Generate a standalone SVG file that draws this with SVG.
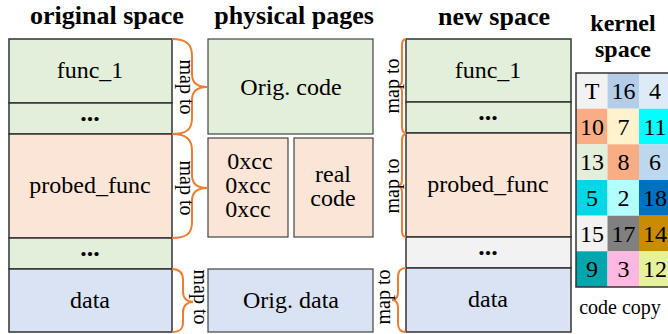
<svg xmlns="http://www.w3.org/2000/svg" width="668" height="334" viewBox="0 0 668 334">
<style>
.t{font-family:"Liberation Serif","Times New Roman",serif;fill:#000}
.title{font-size:26px;font-weight:bold;text-anchor:middle}
.ktitle{font-size:24px;font-weight:bold;text-anchor:middle}
.lbl{font-size:24px;text-anchor:middle}
.dots{font-size:26px;font-weight:bold;text-anchor:middle}
.map{font-size:20px;text-anchor:middle}
.num{font-size:24px;text-anchor:middle}
.box{stroke:#333;stroke-width:1.5}
.pbox{stroke:#444;stroke-width:1.2}
.g{fill:#e2efda}.o{fill:#fbe5d6}.b{fill:#dae3f3}.gr{fill:#f2f2f2}
.brace{fill:none;stroke:#ed7d31;stroke-width:2}
</style>
<rect width="668" height="334" fill="#fff"/>
<text class="t title" x="107" y="24">original space</text>
<text class="t title" x="294" y="24">physical pages</text>
<text class="t title" x="494" y="25">new space</text>
<text class="t ktitle" x="623" y="31">kernel</text>
<text class="t ktitle" x="623" y="57">space</text>

<g id="orig-func1"><rect class="box g" x="9" y="39" width="163" height="64"/><text class="t lbl" x="90" y="78">func_1</text></g>
<g id="orig-dots1"><rect class="box g" x="9" y="103" width="163" height="31"/><text class="t dots" x="90" y="121">...</text></g>
<g id="orig-probed"><rect class="box o" x="9" y="134" width="163" height="104"/><text class="t lbl" x="90" y="193">probed_func</text></g>
<g id="orig-dots2"><rect class="box g" x="9" y="238" width="163" height="31"/><text class="t dots" x="90" y="256">...</text></g>
<g id="orig-data"><rect class="box b" x="9" y="269" width="163" height="63"/><text class="t lbl" x="90" y="308">data</text></g>

<g id="phys-code"><rect class="pbox g" x="208" y="39" width="165" height="95"/><text class="t lbl" x="291" y="95">Orig. code</text></g>
<g id="phys-cc"><rect class="pbox o" x="208" y="138" width="80" height="99"/><text class="t lbl" x="250" y="169">0xcc</text><text class="t lbl" x="248" y="193">0xcc</text><text class="t lbl" x="248" y="217">0xcc</text></g>
<g id="phys-real"><rect class="pbox o" x="294" y="138" width="79" height="99"/><text class="t lbl" x="333" y="182">real</text><text class="t lbl" x="333" y="206">code</text></g>
<g id="phys-data"><rect class="pbox b" x="208" y="269" width="165" height="63"/><text class="t lbl" x="291" y="308">Orig. data</text></g>

<g id="new-func1"><rect class="box g" x="406" y="39" width="165" height="63"/><text class="t lbl" x="488" y="78">func_1</text></g>
<g id="new-dots1"><rect class="box g" x="406" y="102" width="165" height="31"/><text class="t dots" x="488" y="120">...</text></g>
<g id="new-probed"><rect class="box o" x="406" y="133" width="165" height="104"/><text class="t lbl" x="488" y="192">probed_func</text></g>
<g id="new-dots2"><rect class="box gr" x="406" y="237" width="165" height="31"/><text class="t dots" x="488" y="255">...</text></g>
<g id="new-data"><rect class="box b" x="406" y="268" width="165" height="64"/><text class="t lbl" x="488" y="307">data</text></g>

<g id="connectors">
<path class="brace" d="M172,39 C186,39 192,44 192,56 L192,74 C192,83 198,87 207,87 C198,87 192,91 192,100 L192,118 C192,130 186,134 172,134"/>
<path class="brace" d="M172,134 C186,134 192,139 192,151 L192,175 C192,184 198,188 207,188 C198,188 192,192 192,201 L192,222 C192,234 186,238 172,238"/>
<path class="brace" d="M172,269 C180,269 183,273 183,280 L183,292 C183,298 187,302 193,302 C187,302 183,306 183,312 L183,322 C183,329 180,332 172,332"/>
<path class="brace" d="M406,39 C403,39 402,41 402,46 L402,80 C402,84 400,86 397,86 C400,86 402,88 402,92 L402,127 C402,131 403,133 406,133"/>
<path class="brace" d="M406,134 C403,134 402,136 402,141 L402,180 C402,184 400,186 397,186 C400,186 402,188 402,192 L402,231 C402,235 403,237 406,237"/>
<path class="brace" d="M406,268 C400,268 398,271 398,277 L398,292 C398,297 396,300 392,300 C396,300 398,303 398,308 L398,323 C398,329 400,332 406,332"/>
<text class="t map" transform="translate(179.5,87) rotate(90)">map to</text>
<text class="t map" transform="translate(179.5,188) rotate(90)">map to</text>
<text class="t map" transform="translate(193.5,297) rotate(90)">map to</text>
<text class="t map" transform="translate(398.5,86) rotate(-90)">map to</text>
<text class="t map" transform="translate(398.5,186) rotate(-90)">map to</text>
<text class="t map" transform="translate(389.5,297) rotate(-90)">map to</text>
</g>

<g id="kernel">
<rect x="576" y="73" width="31.5" height="35.7" fill="#f2f2f2"/>
<rect x="607.5" y="73" width="31.5" height="35.7" fill="#b4cde8"/>
<rect x="639" y="73" width="31.5" height="35.7" fill="#deebf7"/>
<rect x="576" y="108.7" width="31.5" height="35.7" fill="#f8ad85"/>
<rect x="607.5" y="108.7" width="31.5" height="35.7" fill="#fff2cc"/>
<rect x="639" y="108.7" width="31.5" height="35.7" fill="#00ffff"/>
<rect x="576" y="144.3" width="31.5" height="35.7" fill="#e2efda"/>
<rect x="607.5" y="144.3" width="31.5" height="35.7" fill="#f8ad85"/>
<rect x="639" y="144.3" width="31.5" height="35.7" fill="#bdd7ee"/>
<rect x="576" y="180" width="31.5" height="35.7" fill="#00d8e6"/>
<rect x="607.5" y="180" width="31.5" height="35.7" fill="#b3ffff"/>
<rect x="639" y="180" width="31.5" height="35.7" fill="#0070c0"/>
<rect x="576" y="215.7" width="31.5" height="35.7" fill="#f2f2f2"/>
<rect x="607.5" y="215.7" width="31.5" height="35.7" fill="#808080"/>
<rect x="639" y="215.7" width="31.5" height="35.7" fill="#c98b00"/>
<rect x="576" y="251.3" width="31.5" height="35.7" fill="#00a5ae"/>
<rect x="607.5" y="251.3" width="31.5" height="35.7" fill="#ffb8e0"/>
<rect x="639" y="251.3" width="31.5" height="35.7" fill="#e6f19b"/>
<rect x="576" y="73" width="96" height="214" fill="none" stroke="#333" stroke-width="1.5"/>
<text class="t num" x="592" y="99">T</text><text class="t num" x="623.5" y="99">16</text><text class="t num" x="655" y="99">4</text>
<text class="t num" x="592" y="135">10</text><text class="t num" x="623.5" y="135">7</text><text class="t num" x="655" y="135">11</text>
<text class="t num" x="592" y="170">13</text><text class="t num" x="623.5" y="170">8</text><text class="t num" x="655" y="170">6</text>
<text class="t num" x="592" y="206">5</text><text class="t num" x="623.5" y="206">2</text><text class="t num" x="655" y="206">18</text>
<text class="t num" x="592" y="242">15</text><text class="t num" x="623.5" y="242">17</text><text class="t num" x="655" y="242">14</text>
<text class="t num" x="592" y="277">9</text><text class="t num" x="623.5" y="277">3</text><text class="t num" x="655" y="277">12</text>
<text class="t" x="620" y="314" font-size="20" text-anchor="middle">code copy</text>
</g>
</svg>
